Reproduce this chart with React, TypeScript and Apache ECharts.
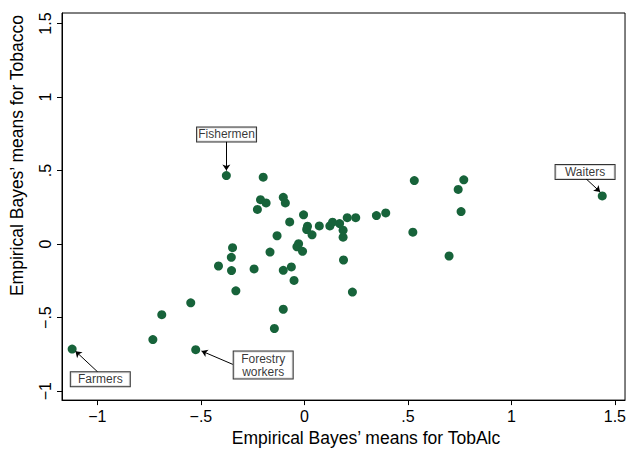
import React, { useEffect, useRef } from "react";
import * as echarts from "echarts";

// Empirical Bayes' means: x = TobAlc, y = Tobacco
const pointsX = [
  -0.377, 1.439, -1.122, -0.525,
  -0.199, -0.212, -0.185, -0.227, -0.102, -0.092, -0.004, -0.071, 0.015, 0.011,
  0.037, 0.072, 0.123, 0.136, 0.17, 0.187, 0.187, 0.207, 0.248, 0.348, 0.393,
  0.531, 0.524, -0.132, -0.028, -0.036, -0.009, -0.166, -0.347, -0.353, -0.415,
  -0.352, -0.243, -0.102, -0.063, -0.05, 0.189, -0.331, 0.232, -0.549, -0.102,
  -0.145, 0.77, 0.743, 0.757, 0.699, -0.732, -0.689,
];
const pointsY = [
  0.466, 0.328, -0.714, -0.718,
  0.455, 0.302, 0.28, 0.236, 0.318, 0.28, 0.199, 0.151, 0.122, 0.099,
  0.063, 0.124, 0.124, 0.149, 0.14, 0.095, 0.047, 0.18, 0.18, 0.194, 0.212,
  0.432, 0.081, 0.057, 0.003, -0.018, -0.049, -0.054, -0.024, -0.09, -0.149,
  -0.18, -0.169, -0.178, -0.155, -0.247, -0.108, -0.318, -0.326, -0.399, -0.443,
  -0.574, 0.437, 0.372, 0.221, -0.081, -0.649, -0.48,
];

// annotation boxes and arrows (data coordinates)
const noteText = ["Fishermen", "Waiters", "Farmers", "Forestry\nworkers"];
const noteBoxX = [-0.376, 1.356, -0.986, -0.199];
const noteBoxY = [0.746, 0.49, -0.919, -0.823];
const arrowFromX = [-0.377, 1.361, -0.999, -0.346];
const arrowFromY = [0.699, 0.444, -0.869, -0.818];
const arrowToX = [-0.377, 1.429, -1.106, -0.497];
const arrowToY = [0.5, 0.355, -0.728, -0.727];

const xTicks = [-1, -0.5, 0, 0.5, 1, 1.5];
const yTicks = [-1, -0.5, 0, 0.5, 1, 1.5];

const fmt = (v: number) => {
  const a = Math.abs(v);
  const s = a < 1 && a > 0 ? String(a).replace(/^0/, "") : String(a);
  return (v < 0 ? "\u2212" : "") + s;
};

const FONT = "'Liberation Sans', Arial, Helvetica, sans-serif";

export default function App() {
  const ref = useRef<HTMLDivElement>(null);
  useEffect(() => {
    if (!ref.current) return;
    const chart = echarts.init(ref.current, undefined, { renderer: "svg" });
    const pts = pointsX.map((x, i) => [x, pointsY[i]]);
    const notes = noteText.map((t, i) => ({ value: [noteBoxX[i], noteBoxY[i]], name: t }));
    const arrows = noteText.map((_, i) => [
      { coord: [arrowFromX[i], arrowFromY[i]], symbol: "none" },
      { coord: [arrowToX[i], arrowToY[i]], symbol: "arrow" },
    ]);
    chart.setOption({
      animation: false,
      backgroundColor: "#fff",
      textStyle: { fontFamily: FONT },
      grid: {
        left: 62,
        right: 2,
        top: 13,
        bottom: 49,
        show: true,
        borderColor: "#000",
        borderWidth: 1,
        backgroundColor: "#fff",
      },
      xAxis: {
        type: "value",
        min: -1.171,
        max: 1.549,
        name: "Empirical Bayes\u2019 means for TobAlc",
        nameLocation: "middle",
        nameGap: 28,
        nameTextStyle: { fontSize: 17.5, color: "#000", fontFamily: FONT, padding: [0, 0, 0, 45] },
        axisLine: { show: true, onZero: false, lineStyle: { color: "#000", width: 1 } },
        axisTick: { show: true, length: 5, customValues: xTicks, lineStyle: { color: "#000" } },
        axisLabel: {
          customValues: xTicks,
          formatter: (v: number) => fmt(v),
          fontSize: 16,
          color: "#000",
          margin: 8,
          fontFamily: FONT,
        },
        splitLine: { show: false },
      },
      yAxis: {
        type: "value",
        min: -1.061,
        max: 1.572,
        name: "Empirical Bayes\u2019 means for Tobacco",
        nameLocation: "middle",
        nameGap: 36,
        nameTextStyle: { fontSize: 17.5, color: "#000", fontFamily: FONT, padding: [0, 0, 0, 102] },
        axisLine: { show: true, onZero: false, lineStyle: { color: "#000", width: 1 } },
        axisTick: { show: true, length: 5, customValues: yTicks, lineStyle: { color: "#000" } },
        axisLabel: {
          customValues: yTicks,
          formatter: (v: number) => fmt(v),
          fontSize: 16,
          color: "#000",
          rotate: 90,
          margin: 9,
          fontFamily: FONT,
        },
        splitLine: { show: false },
      },
      series: [
        {
          type: "scatter",
          data: pts,
          symbolSize: 9,
          itemStyle: { color: "#17633a", opacity: 1, borderWidth: 0 },
          markLine: {
            silent: true,
            animation: false,
            symbolSize: 6,
            label: { show: false },
            lineStyle: { color: "#000", width: 1, type: "solid", opacity: 1 },
            data: arrows,
          },
          z: 3,
        },
        {
          type: "scatter",
          data: notes,
          symbolSize: 0,
          silent: true,
          z: 5,
          label: {
            show: true,
            position: "inside",
            formatter: (p: any) => p.name,
            fontSize: 12,
            lineHeight: 13,
            color: "#000",
            fontFamily: FONT,
            backgroundColor: "#fff",
            borderColor: "#000",
            borderWidth: 1,
            padding: [1, 3, 0, 3],
            width: 53,
            align: "center",
          },
        },
      ],
    });
    return () => chart.dispose();
  }, []);
  return (
    <div
      ref={ref}
      style={{ position: "fixed", left: 0, top: 0, width: 629, height: 452 }}
    />
  );
}
